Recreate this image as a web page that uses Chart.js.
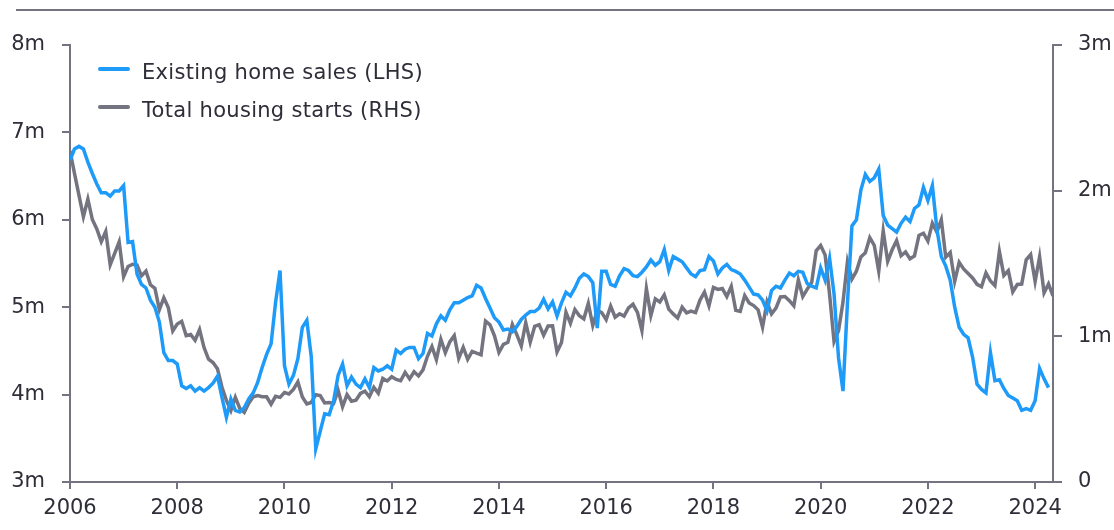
<!DOCTYPE html>
<html>
<head>
<meta charset="utf-8">
<script src="https://cdn.jsdelivr.net/npm/chart.js@4.4.1/dist/chart.umd.min.js"></script>
<style>
  html, body { margin: 0; padding: 0; background: #ffffff; }
  #wrap { position: relative; width: 1114px; height: 530px; overflow: hidden; }
  #topRule { position: absolute; left: 16px; right: 0; top: 9px; height: 2px; background: #747480; }
  #legend { position: absolute; left: 98px; top: 59px; font-family: "DejaVu Sans", sans-serif; font-size: 21px; letter-spacing: 0.3px; color: #2e2e38; }
  .item { position: relative; height: 38px; white-space: nowrap; }
  .swatch { position: absolute; left: 0; top: 8px; width: 32px; height: 3.5px; border-radius: 2px; }
  .label { position: absolute; left: 44px; top: 0; line-height: 26px; }
  canvas { position: absolute; left: 0; top: 0; }
</style>
</head>
<body>
<div id="wrap">
  <canvas id="c" width="1114" height="530"></canvas>
  <div id="topRule"></div>
  <div id="legend"></div>
</div>
<script>
// ---- Data (monthly, starting January 2006) ----
const startYear = 2006;
const seriesNames = ["Existing home sales (LHS)", "Total housing starts (RHS)"];

// Existing home sales, millions (left axis), Jan 2006 - Apr 2024
const existingHomeSales = [
  6.68, 6.81, 6.84, 6.81, 6.66, 6.53, 6.41, 6.31, 6.31, 6.27, 6.33, 6.33, 6.39,
  5.74, 5.75, 5.38, 5.26, 5.22, 5.08, 5.00, 4.83, 4.48, 4.39, 4.39, 4.35,
  4.10, 4.07, 4.10, 4.04, 4.08, 4.04, 4.08, 4.13, 4.21, 3.97, 3.74,
  3.95, 3.82, 3.80, 3.85, 3.95, 4.02, 4.14, 4.31, 4.46, 4.58, 5.05, 5.42,
  4.33, 4.12, 4.22, 4.41, 4.77, 4.85, 4.43, 3.38, 3.58, 3.78, 3.77, 3.93,
  4.22, 4.35, 4.10, 4.20, 4.12, 4.08, 4.18, 4.08, 4.31, 4.27, 4.29, 4.33,
  4.29, 4.51, 4.47, 4.52, 4.54, 4.54, 4.41, 4.47, 4.70, 4.67, 4.81, 4.90,
  4.85, 4.97, 5.05, 5.05, 5.08, 5.11, 5.13, 5.25, 5.22, 5.10, 4.99, 4.88,
  4.83, 4.74, 4.75, 4.72, 4.78, 4.86, 4.91, 4.95, 4.95, 4.99, 5.09, 4.98,
  5.06, 4.90, 5.05, 5.17, 5.13, 5.22, 5.33, 5.38, 5.35, 5.28, 4.76, 5.41,
  5.41, 5.26, 5.24, 5.36, 5.44, 5.42, 5.36, 5.35, 5.40, 5.46, 5.54, 5.48,
  5.52, 5.66, 5.42, 5.58, 5.55, 5.52, 5.45, 5.38, 5.35, 5.42, 5.43, 5.58,
  5.53, 5.38, 5.45, 5.49, 5.43, 5.41, 5.38, 5.31, 5.23, 5.15, 5.14, 5.08,
  4.96, 5.19, 5.24, 5.22, 5.31, 5.39, 5.36, 5.41, 5.40, 5.27, 5.24, 5.22,
  5.45, 5.31, 5.56, 5.15, 4.42, 4.04, 5.05, 5.93, 6.00, 6.34, 6.52, 6.44,
  6.48, 6.58, 6.05, 5.94, 5.90, 5.86, 5.96, 6.03, 5.98, 6.13, 6.17, 6.37,
  6.22, 6.39, 5.90, 5.58, 5.47, 5.31, 5.00, 4.77, 4.69, 4.65, 4.43, 4.12,
  4.06, 4.02, 4.48, 4.16, 4.17, 4.07, 3.99, 3.96, 3.93, 3.82, 3.84, 3.82,
  3.93, 4.30, 4.18, 4.08
];

// Total housing starts, millions (right axis), Jan 2006 - May 2024
const housingStarts = [
  2.273, 2.119, 1.969, 1.821, 1.942, 1.802, 1.737, 1.650, 1.720, 1.491, 1.570, 1.649,
  1.409, 1.480, 1.495, 1.490, 1.415, 1.448, 1.354, 1.330, 1.183, 1.264, 1.197, 1.037,
  1.084, 1.103, 1.005, 1.013, 0.973, 1.046, 0.923, 0.844, 0.820, 0.777, 0.652, 0.560,
  0.490, 0.582, 0.505, 0.478, 0.540, 0.585, 0.594, 0.586, 0.585, 0.534, 0.588, 0.581,
  0.614, 0.604, 0.636, 0.687, 0.583, 0.536, 0.546, 0.599, 0.594, 0.543, 0.545, 0.539,
  0.630, 0.517, 0.600, 0.554, 0.561, 0.608, 0.623, 0.585, 0.650, 0.610, 0.711, 0.694,
  0.723, 0.704, 0.695, 0.753, 0.708, 0.757, 0.728, 0.770, 0.863, 0.930, 0.840, 0.980,
  0.888, 0.962, 1.005, 0.849, 0.925, 0.842, 0.896, 0.884, 0.873, 1.105, 1.079, 1.004,
  0.890, 0.945, 0.959, 1.082, 1.012, 0.934, 1.094, 0.960, 1.069, 1.080, 1.008, 1.071,
  1.072, 0.893, 0.957, 1.166, 1.089, 1.184, 1.141, 1.120, 1.226, 1.074, 1.179, 1.163,
  1.114, 1.208, 1.131, 1.155, 1.139, 1.195, 1.220, 1.164, 1.039, 1.328, 1.142, 1.257,
  1.236, 1.285, 1.187, 1.154, 1.126, 1.200, 1.161, 1.173, 1.163, 1.249, 1.304, 1.209,
  1.336, 1.322, 1.328, 1.273, 1.343, 1.179, 1.171, 1.280, 1.229, 1.211, 1.182, 1.063,
  1.237, 1.154, 1.194, 1.270, 1.273, 1.245, 1.210, 1.387, 1.273, 1.324, 1.371, 1.587,
  1.624, 1.558, 1.287, 0.964, 1.039, 1.235, 1.514, 1.393, 1.447, 1.545, 1.573, 1.677,
  1.625, 1.447, 1.725, 1.514, 1.594, 1.657, 1.553, 1.579, 1.532, 1.552, 1.693, 1.708,
  1.654, 1.777, 1.716, 1.800, 1.543, 1.575, 1.377, 1.508, 1.463, 1.432, 1.401, 1.357,
  1.340, 1.436, 1.380, 1.348, 1.583, 1.418, 1.451, 1.305, 1.356, 1.359, 1.525, 1.562,
  1.376, 1.546, 1.299, 1.360, 1.277
];

const xTickYears = [2006, 2008, 2010, 2012, 2014, 2016, 2018, 2020, 2022, 2024];
const leftTicks = [3, 4, 5, 6, 7, 8];
const rightTicks = [0, 1, 2, 3];

// ---- Styling ----
const BLUE = "#1E9BF8";
const GREY = "#747480";
const TEXT = "#2e2e38";
const FONT = "'DejaVu Sans', sans-serif";

function toPoints(arr) {
  return arr.map((v, i) => ({ x: startYear + i / 12, y: v }));
}

// HTML legend (real text)
const legendColors = [BLUE, GREY];
const legendEl = document.getElementById("legend");
seriesNames.forEach((name, k) => {
  const item = document.createElement("div");
  item.className = "item";
  const sw = document.createElement("div");
  sw.className = "swatch";
  sw.style.background = legendColors[k];
  const lb = document.createElement("div");
  lb.className = "label";
  lb.textContent = name;
  item.appendChild(sw);
  item.appendChild(lb);
  legendEl.appendChild(item);
});

const xMax = startYear + (housingStarts.length - 1) / 12;

const tickFont = { family: FONT, size: 21 };

new Chart(document.getElementById("c"), {
  type: "line",
  data: {
    datasets: [
      {
        label: seriesNames[0],
        data: toPoints(existingHomeSales),
        yAxisID: "y",
        borderColor: BLUE,
        borderWidth: 3.5,
        pointRadius: 0,
        tension: 0,
        fill: false
      },
      {
        label: seriesNames[1],
        data: toPoints(housingStarts),
        yAxisID: "y1",
        borderColor: GREY,
        borderWidth: 3.5,
        pointRadius: 0,
        tension: 0,
        fill: false
      }
    ]
  },
  options: {
    responsive: false,
    animation: false,
    events: [],
    layout: { padding: { top: 45, left: 0, right: 0, bottom: 0 } },
    plugins: { legend: { display: false }, tooltip: { enabled: false } },
    scales: {
      x: {
        type: "linear",
        position: "bottom",
        min: startYear,
        max: xMax,
        afterBuildTicks: (s) => { s.ticks = xTickYears.map(v => ({ value: v })); },
        afterFit: (s) => { s.height = 48; },
        ticks: {
          autoSkip: false,
          maxRotation: 0,
          font: tickFont,
          color: TEXT,
          padding: 7,
          callback: (v) => String(v)
        },
        grid: { drawOnChartArea: false, drawTicks: true, tickLength: 7, color: GREY, lineWidth: 2 },
        border: { display: true, color: GREY, width: 2 }
      },
      y: {
        position: "left",
        min: 3,
        max: 8,
        afterBuildTicks: (s) => { s.ticks = leftTicks.map(v => ({ value: v })); },
        afterFit: (s) => { s.width = 70; },
        ticks: {
          font: tickFont,
          color: TEXT,
          padding: 17,
          callback: (v) => v + "m"
        },
        grid: { drawOnChartArea: false, drawTicks: true, tickLength: 8, color: GREY, lineWidth: 2 },
        border: { display: true, color: GREY, width: 2 }
      },
      y1: {
        position: "right",
        min: 0,
        max: 3,
        afterBuildTicks: (s) => { s.ticks = rightTicks.map(v => ({ value: v })); },
        afterFit: (s) => { s.width = 61; },
        ticks: {
          font: tickFont,
          color: TEXT,
          padding: 16,
          callback: (v) => (v === 0 ? "0" : v + "m")
        },
        grid: { drawOnChartArea: false, drawTicks: true, tickLength: 9, color: GREY, lineWidth: 2 },
        border: { display: true, color: GREY, width: 2 }
      }
    }
  }
});
</script>
</body>
</html>
